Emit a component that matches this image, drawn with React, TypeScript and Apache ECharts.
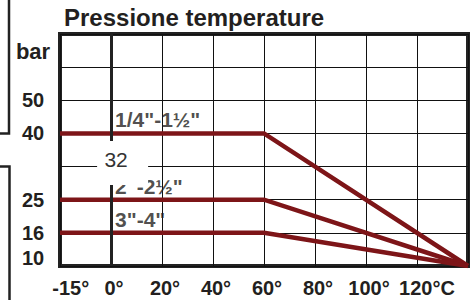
import React, { useEffect, useRef } from "react";
import * as echarts from "echarts";

// Temperature breakpoints (°C) of the pressure/temperature curves
const temps = [-20, 60, 140];
// Rated pressure (bar) at each breakpoint, one array per size range
const pressureSmall = [40, 40, 10]; // 1/4"-1½"
const pressureMid = [25, 25, 10]; // 2"-2½"
const pressureLarge = [16, 16, 10]; // 3"-4"
const sizeLabels = ['1/4"-1½"', '2"-2½"', '3"-4"'];
const ratedPressure = [40, 25, 16];

// Non-linear pressure scale: one value per grid row from the bottom
const pressureScale = [10, 16, 25, 32, 40, 50];
const xTickLabels = ["-15°", "0°", "20°", "40°", "60°", "80°", "100°", "120°C"];
const xTickValues = [-15, 0, 20, 40, 60, 80, 100, 120];

const FONT = "'Liberation Sans', Arial, Helvetica, sans-serif";
const RED = "#7d1518";
const INK = "#231f20";

const row = (p: number) => pressureScale.indexOf(p);

export default function App() {
  const ref = useRef<HTMLDivElement>(null);
  useEffect(() => {
    if (!ref.current) return;
    const chart = echarts.init(ref.current, null, { renderer: "svg" });
    const mkLine = (name: string, vals: number[]) => ({
      name,
      type: "line",
      z: 4,
      symbol: "none",
      data: temps.map((t, i) => [t, row(vals[i])]),
      lineStyle: { color: RED, width: 4.5, cap: "butt", join: "miter" },
    });
    const brackets = [
      {
        type: "polyline",
        shape: { points: [[0, 133.5], [9, 133.5], [9, 0]] },
        style: { stroke: "#222", lineWidth: 2.5, fill: null },
      },
      {
        type: "polyline",
        shape: { points: [[0, 166.5], [9.5, 166.5], [9.5, 300]] },
        style: { stroke: "#222", lineWidth: 2.5, fill: null },
      },
    ];
    chart.setOption({
      animation: false,
      backgroundColor: "#fff",
      title: {
        text: "Pressione temperature",
        left: 64,
        top: 5,
        padding: 0,
        textStyle: { fontFamily: FONT, fontWeight: "bold", fontSize: 24, color: INK },
      },
      grid: {
        left: 60,
        top: 34,
        width: 408,
        height: 232,
        show: true,
        borderColor: "#222",
        borderWidth: 4,
        backgroundColor: "transparent",
      },
      xAxis: {
        type: "value",
        min: -20,
        max: 140,
        interval: 20,
        axisLine: { show: false },
        axisTick: { show: false },
        splitLine: { show: true, lineStyle: { color: "#111", width: 1 } },
        axisLabel: {
          customValues: xTickValues,
          margin: 12,
          padding: [0, 0, 0, 6],
          fontFamily: FONT,
          fontWeight: "bold",
          fontSize: 20,
          color: INK,
          formatter: (v: number) => {
            const i = xTickValues.indexOf(v);
            const t = xTickLabels[i] ?? "";
            if (v === -15) return "{m|" + t + "}";
            if (v === 120) return "{c|" + t + "}";
            return t;
          },
          rich: {
            m: { fontFamily: FONT, fontWeight: "bold", fontSize: 20, color: INK, padding: [0, 10, 0, 0] },
            c: { fontFamily: FONT, fontWeight: "bold", fontSize: 20, color: INK, padding: [0, 0, 0, 14] },
          },
        },
      },
      yAxis: {
        type: "value",
        min: 0,
        max: 7,
        interval: 1,
        axisLine: { show: false },
        axisTick: { show: false },
        splitLine: { show: true, lineStyle: { color: "#111", width: 1 } },
        axisLabel: {
          customValues: [0.24, 1, 2, 4, 5, 6.46],
          align: "center",
          margin: 27,
          fontFamily: FONT,
          fontWeight: "bold",
          fontSize: 20,
          color: INK,
          formatter: (v: number) => {
            if (v > 6) return "{u|bar}";
            return String(pressureScale[Math.round(v)]);
          },
          rich: {
            u: { fontFamily: FONT, fontWeight: "bold", fontSize: 22, color: INK },
          },
        },
      },
      graphic: brackets,
      series: [
        {
          type: "line",
          z: 3,
          data: [],
          markLine: {
            silent: true,
            symbol: "none",
            label: { show: false },
            lineStyle: { color: "#222", width: 3, type: "solid" },
            data: [{ xAxis: 0 }],
          },
        },
        mkLine(sizeLabels[0], pressureSmall),
        mkLine(sizeLabels[1], pressureMid),
        mkLine(sizeLabels[2], pressureLarge),
        {
          type: "scatter",
          z: 5,
          symbolSize: 0,
          data: ratedPressure.map((p, i) => ({ value: [0, row(p)], name: sizeLabels[i] })),
          label: {
            show: true,
            position: "right",
            distance: 4,
            offset: [0, -13.5],
            formatter: (p: any) => p.name,
            fontFamily: FONT,
            fontWeight: "bold",
            fontSize: 21,
            color: INK,
          },
        },
      ],
    });
    // "32" mark of the pressure scale, drawn inside the plot on a white patch
    const [px, py] = chart.convertToPixel({ gridIndex: 0 }, [2, row(32)]) as number[];
    chart.setOption({
      graphic: [
        ...brackets,
        {
          type: "rect",
          z: 100,
          shape: { x: px - 19, y: py - 25.6, width: 51, height: 44 },
          style: { fill: "#fff" },
        },
        {
          type: "text",
          z: 101,
          x: px,
          y: py - 6.6,
          style: {
            text: "32",
            align: "center",
            verticalAlign: "middle",
            fontFamily: FONT,
            fontWeight: "normal",
            fontSize: 21,
            fill: "#333",
          },
        },
      ],
    });
    return () => chart.dispose();
  }, []);
  return (
    <div
      ref={ref}
      style={{ position: "fixed", left: 0, top: 0, width: 473, height: 300 }}
    />
  );
}
